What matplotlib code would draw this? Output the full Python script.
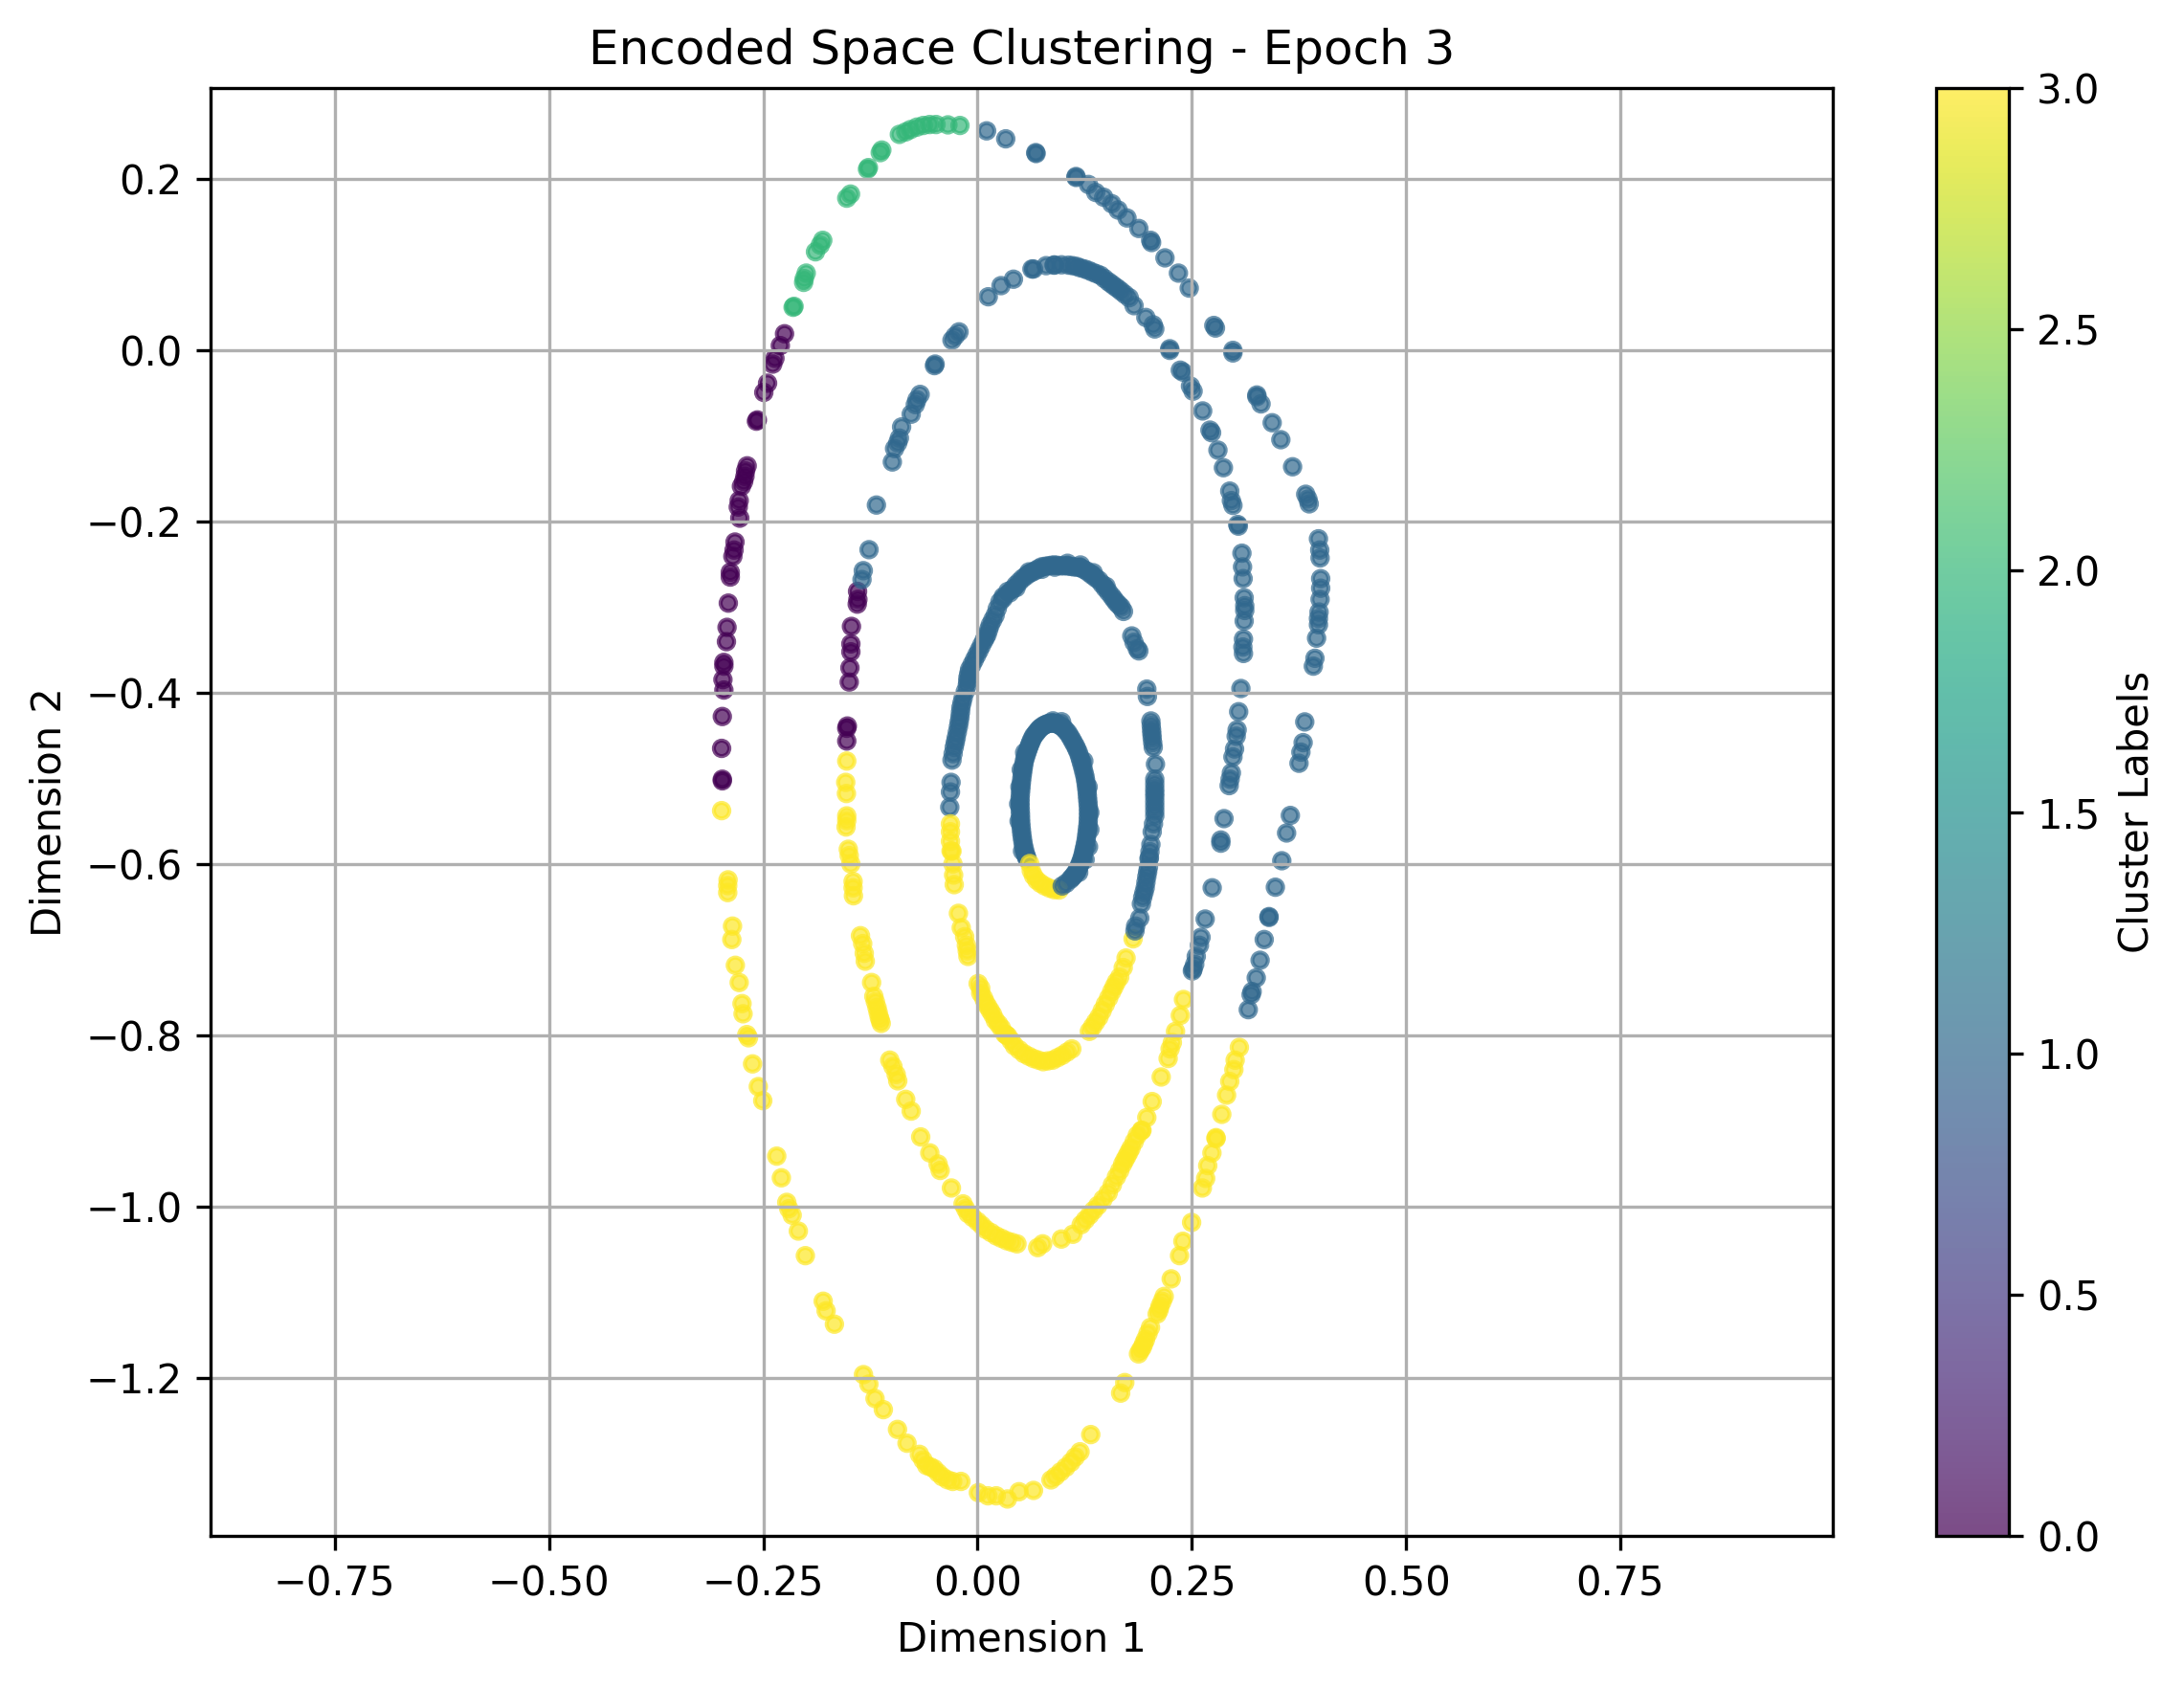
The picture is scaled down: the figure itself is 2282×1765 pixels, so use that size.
import numpy as np
import matplotlib
matplotlib.use("Agg")
import matplotlib.pyplot as plt

# cluster 0, outer ring then middle ring
x0 = [-0.2252, -0.2301, -0.2364, -0.2390, -0.2450, -0.2494, -0.2569, -0.2580, -0.2688, -0.2707, -0.2714,
      -0.2729, -0.2755, -0.2781, -0.2792, -0.2774, -0.2830, -0.2841, -0.2855, -0.2885, -0.2885, -0.2908,
      -0.2923, -0.2930, -0.2960, -0.2960, -0.2971, -0.2960, -0.2978, -0.2986, -0.2978, -0.2978,
      -0.1400, -0.1396, -0.1404, -0.1471, -0.1478, -0.1478, -0.1489, -0.1497, -0.1519, -0.1526, -0.1526]
y0 = [0.0190, 0.0052, -0.0097, -0.0164, -0.0387, -0.0495, -0.0816, -0.0831, -0.1352, -0.1412, -0.1475,
      -0.1535, -0.1591, -0.1758, -0.1833, -0.1963, -0.2242, -0.2335, -0.2409, -0.2595, -0.2651, -0.2955,
      -0.3238, -0.3405, -0.3647, -0.3691, -0.3848, -0.3970, -0.4279, -0.4651, -0.5011, -0.5030,
      -0.2818, -0.2911, -0.2967, -0.3227, -0.3431, -0.3524, -0.3710, -0.3877, -0.4390, -0.4416, -0.4565]

# cluster 1, outer arc
x1_outer = [0.0106, 0.0329, 0.0683, 0.0679, 0.1149, 0.1149, 0.1294, 0.1379, 0.1472, 0.1566, 0.1640, 0.1744,
            0.1882, 0.2020, 0.2031, 0.2187, 0.2344, 0.2470, 0.2757, 0.2776, 0.2980, 0.2980, 0.3259, 0.3259,
            0.3308, 0.3438, 0.3539, 0.3676, 0.3829, 0.3855, 0.3870, 0.3978, 0.3993, 0.3997, 0.4004, 0.4004,
            0.3997, 0.3985, 0.3978, 0.3978, 0.3956, 0.3937, 0.3918, 0.3818, 0.3799, 0.3773, 0.3751, 0.3650,
            0.3606, 0.3550]
y1_outer = [0.2559, 0.2466, 0.2294, 0.2305, 0.2026, 0.2015, 0.1933, 0.1840, 0.1784, 0.1709, 0.1635, 0.1542,
            0.1419, 0.1281, 0.1255, 0.1076, 0.0898, 0.0723, 0.0287, 0.0257, -0.0034, -0.0004, -0.0525, -0.0544,
            -0.0629, -0.0849, -0.1047, -0.1363, -0.1684, -0.1740, -0.1796, -0.2204, -0.2335, -0.2428, -0.2669,
            -0.2781, -0.2911, -0.3059, -0.3134, -0.3208, -0.3364, -0.3599, -0.3691, -0.4342, -0.4584, -0.4695,
            -0.4825, -0.5434, -0.5639, -0.5963]
# the tail of the outer arc below y = -0.6
x1_outer2 = [0.3475, 0.3401, 0.3401, 0.3345, 0.3297, 0.3252, 0.3204, 0.3192, 0.3159]
y1_outer2 = [-0.6272, -0.6615, -0.6625, -0.6883, -0.7125, -0.7330, -0.7490, -0.7527, -0.7702]

# cluster 1, middle arc
x1_mid = [-0.1180, -0.1266, -0.1333, -0.1348, -0.0994, -0.0968, -0.0931, -0.0912, -0.0886, -0.0774, -0.0726,
          -0.0707, -0.0670, -0.0503, -0.0495, -0.0298, -0.0261, -0.0216, 0.0125, 0.0274, 0.0419, 0.0653, 0.0635,
          0.0895, 0.0895, 0.1063, 0.1156, 0.1249, 0.1342, 0.1435, 0.1528, 0.1603, 0.1677, 0.1770, 0.1826, 0.1964,
          0.2050, 0.2068, 0.2243, 0.2243, 0.2366, 0.2396, 0.2485, 0.2515, 0.2627, 0.2712, 0.2731, 0.2805, 0.2869,
          0.2943, 0.2962, 0.2980, 0.3036, 0.3043, 0.3085, 0.3092, 0.3099, 0.3111, 0.3118, 0.3118, 0.3111, 0.3103,
          0.3096, 0.3103, 0.3073, 0.3047, 0.3029, 0.3018, 0.2999, 0.2980, 0.2962, 0.2947, 0.2936, 0.2876, 0.2839,
          0.2839,
          0.0800, 0.0980, 0.1110, 0.1200, 0.1295, 0.1390, 0.1480, 0.1565, 0.1640, 0.1720]
y1_mid = [-0.1810, -0.2331, -0.2576, -0.2680, -0.1307, -0.1151, -0.1084, -0.1028, -0.0898, -0.0749, -0.0637,
          -0.0581, -0.0518, -0.0182, -0.0164, 0.0115, 0.0164, 0.0212, 0.0622, 0.0752, 0.0827, 0.0946, 0.0946,
          0.0994, 0.0991, 0.0991, 0.0976, 0.0946, 0.0909, 0.0872, 0.0797, 0.0741, 0.0685, 0.0611, 0.0518, 0.0380,
          0.0294, 0.0246, 0.0015, -0.0004, -0.0235, -0.0257, -0.0421, -0.0480, -0.0711, -0.0935, -0.0965, -0.1169,
          -0.1374, -0.1647, -0.1758, -0.1814, -0.2037, -0.2056, -0.2372, -0.2532, -0.2669, -0.2892, -0.2985,
          -0.3041, -0.3164, -0.3375, -0.3468, -0.3543, -0.3952, -0.4223, -0.4435, -0.4509, -0.4658, -0.4751,
          -0.4937, -0.5011, -0.5086, -0.5471, -0.5721, -0.5758,
          0.0985, 0.0995, 0.0985, 0.0960, 0.0930, 0.0890, 0.0835, 0.0770, 0.0715, 0.0650]
# the tail of the middle arc below y = -0.6
x1_mid2 = [0.2738, 0.2656, 0.2608, 0.2589, 0.2552, 0.2534, 0.2515, 0.2507]
y1_mid2 = [-0.6279, -0.6644, -0.6857, -0.6950, -0.7080, -0.7173, -0.7229, -0.7250]

# cluster 1, inner arc
x1_inner = [-0.0324, -0.0316, -0.0309, -0.0298, -0.0272, -0.0249, -0.0223, -0.0205, -0.0194, -0.0168, -0.0119,
            -0.0112, -0.0093, -0.0037, 0.0019, 0.0074, 0.0112, 0.0149, 0.0205, 0.0261, 0.0354, 0.0374, 0.0449,
            0.0523, 0.0598, 0.0672, 0.0746, 0.0821, 0.0895, 0.0970, 0.1044, 0.1119, 0.1193, 0.1268, 0.1342, 0.1417,
            0.1491, 0.1566, 0.1621, 0.1677, 0.1703, 0.1800, 0.1826, 0.1864, 0.1882, 0.1975, 0.1982, 0.2023, 0.2031,
            0.2038, 0.2050, 0.2076, 0.2068, 0.2068, 0.2068, 0.2068, 0.2068, 0.2038, 0.2023, 0.2001, 0.2005, 0.1994,
            0.1975, 0.1956, 0.1927, 0.1912, 0.1893,
            0.0411, 0.0486, 0.0560, 0.0635, 0.0709, 0.0783, 0.0858, 0.0932, 0.1007, 0.1081, 0.1156, 0.1230, 0.1305,
            0.1379, 0.1454, 0.1528, 0.1593, 0.1649,
            0.0300, 0.0230, 0.0177, 0.0130, 0.0093, 0.0046, -0.0009, -0.0065, -0.0102, -0.0115, -0.0143, -0.0181,
            -0.0199, -0.0214, -0.0236, -0.0260, -0.0285,
            0.2068, 0.2068, 0.2068, 0.2068, 0.2053, 0.2012, 0.1985, 0.1965, 0.1942, 0.2027, 0.2034, 0.2044,
            0.0600, 0.0750, 0.0900, 0.1050, 0.1200, 0.1350, 0.1500, 0.0450, 0.0300]
y1_inner = [-0.5338, -0.5160, -0.5048, -0.4788, -0.4639, -0.4528, -0.4398, -0.4286, -0.4175, -0.4063, -0.3914,
            -0.3822, -0.3729, -0.3617, -0.3506, -0.3394, -0.3320, -0.3208, -0.3097, -0.2941, -0.2818, -0.2836,
            -0.2743, -0.2669, -0.2613, -0.2576, -0.2532, -0.2520, -0.2509, -0.2520, -0.2520, -0.2532, -0.2539,
            -0.2576, -0.2632, -0.2688, -0.2781, -0.2874, -0.2948, -0.3004, -0.3052, -0.3338, -0.3413, -0.3487,
            -0.3513, -0.3959, -0.4045, -0.4331, -0.4435, -0.4528, -0.4639, -0.4836, -0.5011, -0.5123, -0.5216,
            -0.5327, -0.5439, -0.5625, -0.5773, -0.5941, -0.5926, -0.6037, -0.6149, -0.6279, -0.6391, -0.6466,
            -0.6633,
            -0.2790, -0.2706, -0.2641, -0.2594, -0.2554, -0.2526, -0.2514, -0.2514, -0.2520, -0.2526, -0.2535,
            -0.2557, -0.2604, -0.2660, -0.2734, -0.2827, -0.2911, -0.2976,
            -0.2880, -0.3020, -0.3152, -0.3264, -0.3357, -0.3450, -0.3561, -0.3673, -0.3775, -0.3868, -0.3988,
            -0.4119, -0.4230, -0.4342, -0.4463, -0.4583, -0.4713,
            -0.5067, -0.5170, -0.5272, -0.5383, -0.5532, -0.5857, -0.6093, -0.6214, -0.6335, -0.4383, -0.4480,
            -0.4584,
            -0.2590, -0.2560, -0.2535, -0.2490, -0.2510, -0.2600, -0.2760, -0.2775, -0.2900]

# cluster 1, small ellipse
x1_core = [0.1082, 0.1122, 0.1156, 0.1186, 0.1212, 0.1234, 0.1249, 0.1268, 0.1279, 0.1290, 0.1294, 0.1294, 0.1286,
           0.1279, 0.1268, 0.1253, 0.1230, 0.1204, 0.1175, 0.1141, 0.1100, 0.1056, 0.1007, 0.0959, 0.0914, 0.0866,
           0.0821, 0.0773, 0.0728, 0.0691, 0.0653, 0.0624, 0.0598, 0.0572, 0.0549, 0.0534, 0.0523, 0.0512, 0.0504,
           0.0497, 0.0497, 0.0501, 0.0504, 0.0512, 0.0523, 0.0538, 0.0560, 0.0579,
           0.1102, 0.1139, 0.1171, 0.1199, 0.1223, 0.1241, 0.1258, 0.1273, 0.1284, 0.1292, 0.1294, 0.1290, 0.1282,
           0.1273, 0.1260, 0.1241, 0.1217, 0.1190, 0.1158, 0.1120, 0.1078, 0.1031, 0.0983, 0.0936, 0.0890, 0.0843,
           0.0797, 0.0750, 0.0709, 0.0672, 0.0638, 0.0611, 0.0585, 0.0560, 0.0541, 0.0528, 0.0517, 0.0508, 0.0500,
           0.0497, 0.0499, 0.0502, 0.0508, 0.0517, 0.0530, 0.0549, 0.0569,
           0.1310, 0.1310, 0.1295, 0.0480, 0.0485, 0.0495, 0.0510, 0.0550, 0.0880, 0.0980, 0.1290, 0.1240, 0.0525,
           0.1255, 0.1180]
y1_core = [-0.6182, -0.6138, -0.6089, -0.6026, -0.5959, -0.5885, -0.5810, -0.5717, -0.5625, -0.5532, -0.5439,
           -0.5346, -0.5253, -0.5160, -0.5067, -0.4974, -0.4881, -0.4788, -0.4695, -0.4621, -0.4546, -0.4472,
           -0.4416, -0.4379, -0.4361, -0.4353, -0.4361, -0.4383, -0.4416, -0.4461, -0.4509, -0.4572, -0.4639,
           -0.4714, -0.4788, -0.4874, -0.4955, -0.5048, -0.5141, -0.5234, -0.5327, -0.5420, -0.5513, -0.5606,
           -0.5699, -0.5792, -0.5885, -0.5941,
           -0.6160, -0.6113, -0.6058, -0.5992, -0.5922, -0.5848, -0.5764, -0.5671, -0.5578, -0.5485, -0.5392,
           -0.5300, -0.5206, -0.5114, -0.5020, -0.4928, -0.4834, -0.4742, -0.4658, -0.4584, -0.4509, -0.4444,
           -0.4397, -0.4370, -0.4357, -0.4357, -0.4372, -0.4400, -0.4438, -0.4485, -0.4540, -0.4605, -0.4676,
           -0.4751, -0.4831, -0.4914, -0.5002, -0.5094, -0.5188, -0.5280, -0.5374, -0.5466, -0.5560, -0.5652,
           -0.5746, -0.5838, -0.5913,
           -0.5400, -0.5600, -0.5800, -0.5300, -0.5500, -0.5100, -0.4900, -0.4700, -0.4330, -0.4340, -0.5100,
           -0.4800, -0.5850, -0.5950, -0.6100]

# blue points that sit on top of the yellow ones
x1_top = [0.0988, 0.1033, 0.1845, 0.1837]
y1_top = [-0.6257, -0.6227, -0.6726, -0.6782]

# cluster 2
x2 = [-0.0205, -0.0346, -0.0484, -0.0559, -0.0633, -0.0707, -0.0782, -0.0838, -0.0912, -0.1117, -0.1135, -0.1273,
      -0.1284, -0.1482, -0.1526, -0.1806, -0.1835, -0.1891, -0.1999, -0.2022, -0.2029, -0.2141, -0.2152]
y2 = [0.2622, 0.2629, 0.2633, 0.2633, 0.2622, 0.2603, 0.2574, 0.2547, 0.2518, 0.2335, 0.2305, 0.2130,
      0.2112, 0.1821, 0.1773, 0.1281, 0.1225, 0.1147, 0.0898, 0.0834, 0.0790, 0.0510, 0.0499]

# cluster 3, outer ring
x3_outer = [-0.2986, -0.2911, -0.2915, -0.2915, -0.2859, -0.2867, -0.2826, -0.2781, -0.2748, -0.2736, -0.2692,
            -0.2673, -0.2625, -0.2558, -0.2506, -0.2343, -0.2289, -0.2226, -0.2202, -0.2163, -0.2091, -0.2009,
            -0.1801, -0.1767, -0.1670, -0.1331, -0.1268, -0.1196, -0.1099, -0.0934, -0.0823, -0.0678, -0.0595,
            -0.0508, -0.0411, -0.0290, -0.0194, 0.0010, 0.0121, 0.0218, 0.0349, 0.0484, 0.0653, 0.0857, 0.0968,
            0.1089, 0.1196, 0.1321, 0.1670, 0.1718, 0.1878, 0.1922, 0.1960, 0.2018, 0.2096, 0.2130, 0.2178, 0.2260,
            0.2357, 0.2396, 0.2498, 0.2623, 0.2662, 0.2686, 0.2735, 0.2783, 0.2783, 0.2850, 0.2906, 0.2943, 0.2991,
            0.3006, 0.3055,
            0.1900, 0.1940, 0.1989, 0.2155, 0.2118, 0.0910, 0.1030, 0.1140, -0.0636, -0.0550, -0.0460, -0.0350]
y3_outer = [-0.5378, -0.6186, -0.6253, -0.6335, -0.6726, -0.6883, -0.7184, -0.7385, -0.7631, -0.7750, -0.7993,
            -0.8030, -0.8335, -0.8600, -0.8764, -0.9412, -0.9665, -0.9952, -1.0026, -1.0101, -1.0287, -1.0574,
            -1.1106, -1.1218, -1.1374, -1.1963, -1.2074, -1.2242, -1.2372, -1.2603, -1.2764, -1.2894, -1.3024,
            -1.3061, -1.3155, -1.3210, -1.3210, -1.3341, -1.3378, -1.3378, -1.3415, -1.3330, -1.3315, -1.3192,
            -1.3099, -1.2987, -1.2864, -1.2663, -1.2179, -1.2056, -1.1721, -1.1646, -1.1553, -1.1412, -1.1255,
            -1.1162, -1.1050, -1.0845, -1.0574, -1.0406, -1.0186, -0.9784, -0.9672, -0.9523, -0.9374, -0.9207,
            -0.9196, -0.8924, -0.8700, -0.8540, -0.8402, -0.8291, -0.8142,
            -1.1680, -1.1600, -1.1482, -1.1106, -1.1210, -1.3150, -1.3045, -1.2925, -1.2960, -1.3040, -1.3110,
            -1.3190]

# cluster 3, middle ring
x3_mid = [-0.1526, -0.1538, -0.1530, -0.1526, -0.1526, -0.1534, -0.1508, -0.1497, -0.1478, -0.1452, -0.1452,
          -0.1448, -0.1366, -0.1340, -0.1322, -0.1310, -0.1236, -0.1210, -0.1173, -0.1147, -0.1124, -0.1024,
          -0.0987, -0.0949, -0.0931, -0.0838, -0.0774, -0.0663, -0.0557, -0.0460, -0.0436, -0.0305, -0.0169,
          -0.0111, 0.0000, 0.0097, 0.0218, 0.0339, 0.0460, 0.0702, 0.0760, 0.0978, 0.1113, 0.1210, 0.1307, 0.1404,
          0.1525, 0.1621, 0.1694, 0.1743, 0.1791, 0.1864, 0.1912, 0.1919, 0.1975, 0.2038, 0.2143, 0.2224, 0.2247,
          0.2273, 0.2310, 0.2366, 0.2403,
          0.0049, 0.0158, 0.0278, 0.0400, 0.1258, 0.1355, 0.1465, 0.1573, 0.1660, 0.1718, 0.1767, 0.1828, -0.0140,
          -0.0056, -0.1192, -0.1160, -0.1135]
y3_mid = [-0.4799, -0.5048, -0.5178, -0.5439, -0.5494, -0.5569, -0.5829, -0.5903, -0.6000, -0.6205, -0.6279,
          -0.6372, -0.6838, -0.6931, -0.7043, -0.7136, -0.7385, -0.7546, -0.7676, -0.7788, -0.7862, -0.8291,
          -0.8365, -0.8458, -0.8533, -0.8749, -0.8886, -0.9188, -0.9374, -0.9505, -0.9579, -0.9784, -0.9970,
          -1.0082, -1.0175, -1.0268, -1.0343, -1.0399, -1.0436, -1.0480, -1.0436, -1.0380, -1.0324, -1.0212,
          -1.0101, -0.9989, -0.9840, -0.9654, -0.9505, -0.9412, -0.9318, -0.9169, -0.9114, -0.9110, -0.8961,
          -0.8775, -0.8488, -0.8272, -0.8160, -0.8086, -0.7955, -0.7769, -0.7583,
          -1.0220, -1.0305, -1.0371, -1.0418, -1.0156, -1.0045, -0.9915, -0.9747, -0.9580, -0.9458, -0.9365,
          -0.9244, -1.0026, -1.0128, -0.7610, -0.7732, -0.7825]

# cluster 3, inner ring
x3_inner = [-0.0316, -0.0316, -0.0316, -0.0309, -0.0298, -0.0287, -0.0279, -0.0272, -0.0223, -0.0190, -0.0130,
            -0.0112, 0.0007, 0.0037, 0.0093, 0.0149, 0.0207, 0.0279, 0.0318, 0.0354, 0.0430, 0.0542, 0.0653, 0.0765,
            0.0877, 0.0988, 0.1100, 0.1305, 0.1379, 0.1417, 0.1491, 0.1566, 0.1621, 0.1659, 0.1733, 0.1815,
            0.0037, 0.0070, 0.0120, 0.0177, 0.0245, 0.0336, 0.0392, 0.0486, 0.0598, 0.0709, 0.0820, 0.0933, 0.1044,
            0.1342, 0.1454, 0.1530, 0.1594, 0.1700, -0.0150, -0.0120]
y3_inner = [-0.5532, -0.5625, -0.5736, -0.5848, -0.5851, -0.6000, -0.6130, -0.6242, -0.6577, -0.6745, -0.6950,
            -0.7080, -0.7397, -0.7508, -0.7620, -0.7713, -0.7825, -0.7918, -0.7985, -0.8011, -0.8123, -0.8216,
            -0.8272, -0.8309, -0.8291, -0.8235, -0.8160, -0.7955, -0.7844, -0.7788, -0.7639, -0.7490, -0.7378,
            -0.7322, -0.7099, -0.6875,
            -0.7450, -0.7565, -0.7665, -0.7760, -0.7870, -0.7998, -0.8065, -0.8170, -0.8245, -0.8290, -0.8300,
            -0.8263, -0.8198, -0.7900, -0.7714, -0.7565, -0.7434, -0.7210, -0.6850, -0.7015]

# cluster 3, bottom of the small ellipse
x3_core = [0.0609, 0.0627, 0.0653, 0.0691, 0.0735, 0.0784, 0.0840, 0.0895, 0.0951]
y3_core = [-0.5996, -0.6078, -0.6138, -0.6190, -0.6227, -0.6257, -0.6283, -0.6301, -0.6305]

groups = [
    (x0, y0, 0),
    (x1_outer, y1_outer, 1),
    (x1_outer2, y1_outer2, 1),
    (x1_mid, y1_mid, 1),
    (x1_mid2, y1_mid2, 1),
    (x1_inner, y1_inner, 1),
    (x1_core, y1_core, 1),
    (x2, y2, 2),
    (x3_outer, y3_outer, 3),
    (x3_mid, y3_mid, 3),
    (x3_inner, y3_inner, 3),
    (x3_core, y3_core, 3),
    (x1_top, y1_top, 1),
]

xs = np.concatenate([g[0] for g in groups])
ys = np.concatenate([g[1] for g in groups])
labels = np.concatenate([np.full(len(g[0]), g[2]) for g in groups])

W, H = 2282, 1765
fig = plt.figure(figsize=(W / 300, H / 300), dpi=300)
ax = fig.add_axes([219.5 / W, 1 - 1605 / H, 1695.5 / W, 1513 / H])
cax = fig.add_axes([2023 / W, 1 - 1605 / H, 76 / W, 1513 / H])

sc = ax.scatter(xs, ys, c=labels, cmap="viridis", s=15, linewidths=1, alpha=0.7)
ax.set_xlim(-0.8955, 0.9979)
ax.set_ylim(-1.3846, 0.3059)
ax.set_title("Encoded Space Clustering - Epoch 3")
ax.set_xlabel("Dimension 1")
ax.set_ylabel("Dimension 2")
ax.grid(True)
fig.colorbar(sc, cax=cax, label="Cluster Labels")

fig.savefig("out.png", dpi=300)
